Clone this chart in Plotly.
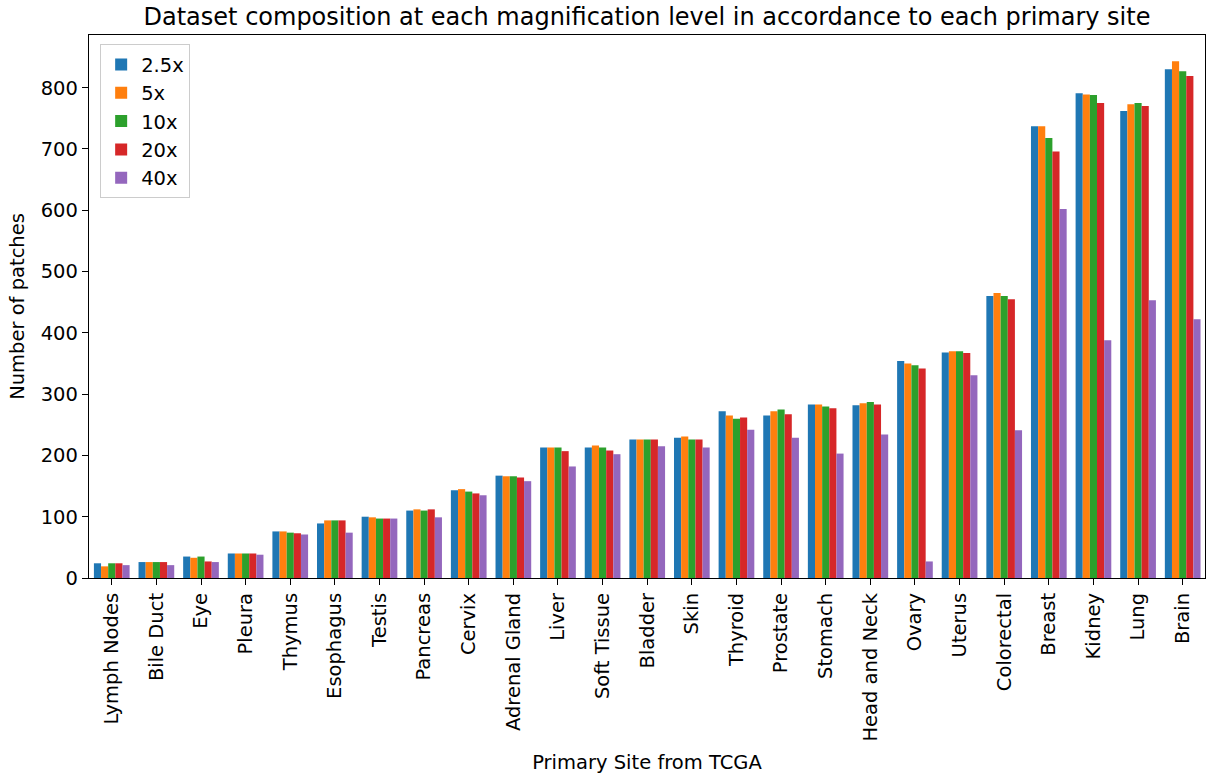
import plotly.graph_objects as go

# Primary sites, ordered by total patch count
sites = [
    "Lymph Nodes", "Bile Duct", "Eye", "Pleura", "Thymus", "Esophagus", "Testis",
    "Pancreas", "Cervix", "Adrenal Gland", "Liver", "Soft Tissue", "Bladder", "Skin",
    "Thyroid", "Prostate", "Stomach", "Head and Neck", "Ovary", "Uterus",
    "Colorectal", "Breast", "Kidney", "Lung", "Brain",
]

# Number of patches per magnification level
mag_2_5x = [24, 26, 35, 40, 76, 89, 100, 110, 143, 167, 213, 213, 226, 229,
            272, 265, 283, 282, 354, 368, 460, 737, 791, 762, 830]
mag_5x = [19, 26, 33, 40, 76, 94, 99, 112, 145, 166, 213, 216, 226, 231,
          265, 272, 283, 285, 350, 370, 465, 737, 789, 773, 843]
mag_10x = [24, 26, 35, 40, 74, 94, 97, 110, 141, 166, 213, 213, 226, 226,
           260, 275, 280, 287, 347, 370, 460, 718, 788, 775, 827]
mag_20x = [24, 26, 27, 40, 73, 94, 97, 112, 138, 164, 207, 208, 226, 226,
           262, 267, 277, 283, 342, 367, 455, 696, 775, 770, 819]
mag_40x = [21, 21, 26, 38, 71, 74, 97, 99, 135, 158, 182, 202, 215, 213,
           242, 229, 203, 234, 27, 331, 241, 602, 388, 453, 422]

series = [
    ("2.5x", mag_2_5x, "#1f77b4"),
    ("5x", mag_5x, "#ff7f0e"),
    ("10x", mag_10x, "#2ca02c"),
    ("20x", mag_20x, "#d62728"),
    ("40x", mag_40x, "#9467bd"),
]

FONT = "DejaVu Sans"
TICK_SIZE = 19.5

fig = go.Figure()
for name, values, color in series:
    fig.add_trace(go.Bar(
        name=name, x=sites, y=values,
        marker=dict(color=color, line=dict(width=0)),
    ))

axis_common = dict(
    showline=True, linecolor="black", linewidth=1.3, mirror=True,
    ticks="outside", ticklen=6, tickwidth=1.3, tickcolor="black",
    showgrid=False, zeroline=False,
    tickfont=dict(family=FONT, size=TICK_SIZE, color="black"),
)

fig.update_layout(
    barmode="group",
    bargap=0.2,
    bargroupgap=0,
    width=1209, height=774,
    margin=dict(l=89, r=4, t=35, b=196),
    paper_bgcolor="white", plot_bgcolor="white",
    font=dict(family=FONT, size=TICK_SIZE, color="black"),
    title=dict(
        text="Dataset composition at each magnification level in accordance to each primary site",
        x=0.5, xref="paper", y=0.978, yref="container", yanchor="middle",
        font=dict(family=FONT, size=24, color="black"),
    ),
    xaxis=dict(
        **axis_common,
        tickangle=-90,
        range=[-0.51, 24.5],
        title=dict(text="Primary Site from TCGA", standoff=15,
                   font=dict(family=FONT, size=TICK_SIZE, color="black")),
    ),
    yaxis=dict(
        **axis_common,
        range=[0, 886],
        tickmode="linear", tick0=0, dtick=100,
        title=dict(text="Number of patches", standoff=10,
                   font=dict(family=FONT, size=TICK_SIZE, color="black")),
    ),
    legend=dict(
        x=0.01, y=0.983, xanchor="left", yanchor="top",
        bgcolor="rgba(255,255,255,0.8)",
        bordercolor="#cccccc", borderwidth=1,
        font=dict(family=FONT, size=TICK_SIZE, color="black"),
        tracegroupgap=0,
    ),
)

fig.write_html("out.html")
